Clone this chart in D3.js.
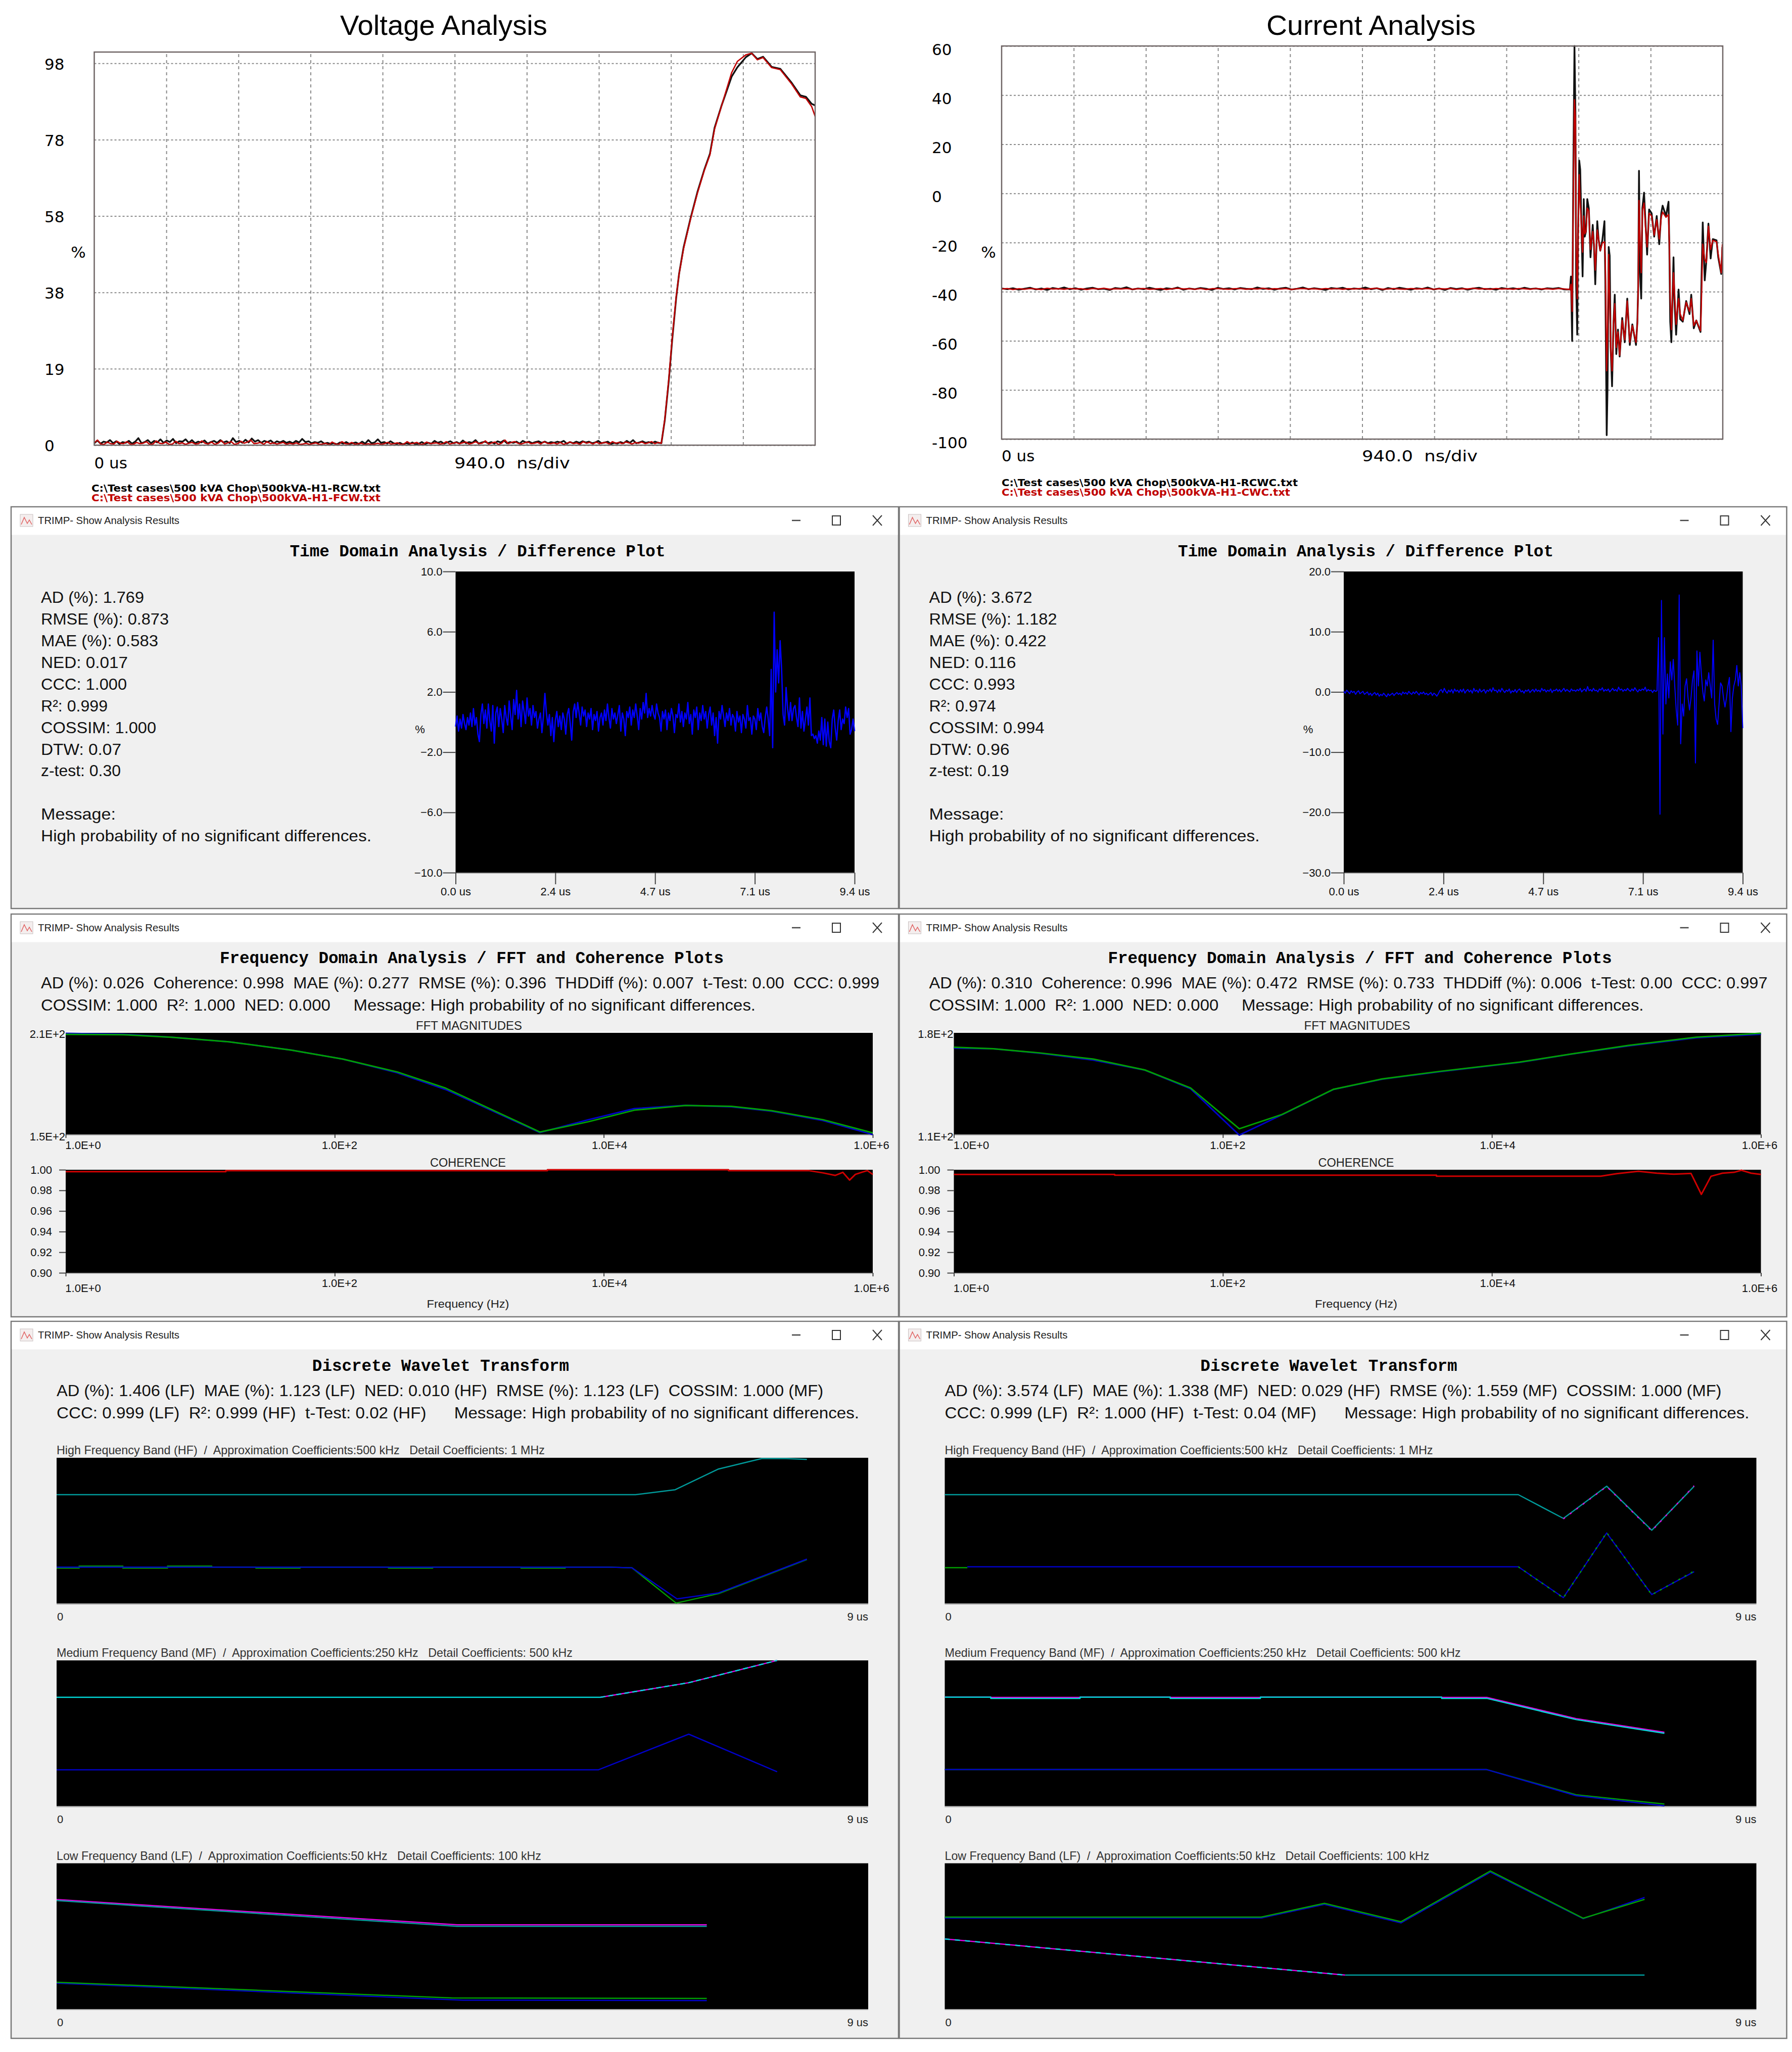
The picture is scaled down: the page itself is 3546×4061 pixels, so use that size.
<!DOCTYPE html>
<html>
<head>
<meta charset="utf-8">
<script src="https://cdn.jsdelivr.net/npm/d3@7"></script>
<style>
  body { margin: 0; background: #fff; }
  svg { display: block; }
  text { white-space: pre; fill: #000; }
</style>
</head>
<body>
<div id="vis"></div>
<script>
// ---- top scope plots (percent vs time in us) ----
let voltageTickValues = [0, 19.6, 39.2, 58.8, 78.4, 98];
let voltageTickLabels = ['0', '19', '38', '58', '78', '98'];
let currentTickValues = [-100, -80, -60, -40, -20, 0, 20, 40, 60];
let gridTimes = [0.94, 1.88, 2.82, 3.76, 4.7, 5.64, 6.58, 7.52, 8.46];

let voltBlackNoise = [0.5,1.2,0.4,0.9,0.7,1.3,0.5,1.0,0.3,0.8,0.6,1.1,0.4,0.9,1.8,0.5,0.8,1.3,0.5,1.1,0.7,1.5,0.6,1.2,0.8,1.6,0.5,1.0,0.9,1.5,0.6,1.3,0.5,0.9,0.7,1.2,0.4,0.8,1.1,0.6,1.3,0.7,1.0,0.5,1.8,0.8,1.1,0.6,1.4,0.7,1.7,0.9,1.3,0.6,1.1,0.8,1.2,0.5,1.0,0.7,1.1,0.6,0.9,0.5,1.1,0.7,1.6,0.8,1.0,0.5,0.8,0.6,1.0,0.4,0.6,0.3,0.5,0.2,0.7,0.4,0.8,0.3,0.5,0.7,0.3,0.9,0.4,1.3,0.5,0.7,1.5,0.6,0.8,0.4,1.0,0.5,0.3,0.6,0.2,0.5,0.3,0.7,0.2,0.4,0.8,0.3,0.6,0.4,1.1,0.6,0.9,0.4,0.7,1.0,0.5,0.8,0.4,1.2,0.5,0.8,0.6,1.3,0.4,0.7,0.9,0.5,0.8,0.4,1.0,0.7,1.2,0.5,0.8,0.6,0.9,0.4,1.1,0.7,0.9,0.5,0.8,1.0,0.6,0.9,0.5,0.8,0.6,0.9,0.7,1.1,0.4,0.8,0.5,0.9,0.6,1.0,0.7,0.9,0.5,0.7,1.1,0.5,0.7,0.9,0.3,0.6,0.4,0.8,0.5,1.1,0.6,1.3,0.5,0.7,1.0,0.6,0.8,0.5,0.9,0.6];
let voltRedNoise = [0.6,1.3,0.3,0.2,0.8,0.4,0.3,1.0,0.5,0.4,0.9,0.3,0.2,0.7,0.4,0.5,0.9,0.2,0.3,1.1,0.5,0.4,0.8,0.2,0.3,1.0,0.4,0.6,0.2,0.5,0.7,0.3,0.4,1.1,0.5,0.3,0.8,0.2,0.5,1.2,0.3,0.6,0.9,0.2,0.4,1.0,0.5,0.8,1.3,0.4,0.5,0.7,0.2,0.9,0.4,0.6,0.3,0.5,0.7,0.2,0.5,0.3,0.6,0.2,0.3,0.5,0.2,0.4,0.6,0.2,0.3,0.5,0.1,0.8,0.3,0.2,0.9,0.4,0.3,0.7,0.2,0.4,0.5,0.1,0.4,0.2,0.3,0.5,0.2,0.4,0.7,0.3,0.4,0.6,0.2,0.3,0.9,0.4,0.5,0.7,0.2,0.3,0.8,0.4,0.5,0.6,0.3,0.4,0.9,0.3,0.5,0.7,0.4,0.6,0.8,0.3,0.5,0.9,0.4,0.5,1.1,0.3,0.6,0.8,0.2,0.5,1.3,0.4,0.7,0.9,0.5,0.3,0.6,0.8,0.4,0.5,0.7,0.3,0.9,0.5,0.4,0.6,0.3,0.7,0.2,0.5,0.8,0.4,0.6,0.2,0.9,0.5,0.7,0.3,0.8,0.4,0.6,0.7,0.3,0.9,0.5,0.7,0.4,0.8,0.6,0.3,0.7,0.5,0.8,0.4,0.6,0.9,0.4,0.7];
let voltTailTimes = [7.395,7.44,7.49,7.536,7.588,7.626,7.685,7.775,7.864,7.953,8.028,8.088,8.177,8.311,8.386,8.498,8.572,8.647,8.721,8.833,8.945,9.094,9.206,9.28,9.355,9.4];
let voltBlackTail = [0.5,6.5,16.2,27.0,37.8,44.0,50.8,58.2,64.9,70.6,74.8,81.4,87.0,94.6,97.0,99.6,100.6,99.1,99.7,97.1,96.6,93.0,89.8,89.4,87.6,87.2];
let voltRedTail = [0.5,6.7,16.6,27.4,38.1,43.9,50.5,58.0,64.6,70.4,74.5,81.1,86.9,95.6,98.5,100.2,100.6,98.9,99.5,96.9,96.4,92.7,89.4,89.0,86.9,84.4];

let currentBlackNoise = [-38.7,-39.0,-38.6,-39.2,-38.8,-38.4,-39.1,-38.7,-39.3,-38.5,-38.9,-38.3,-39.0,-38.6,-39.2,-38.7,-38.4,-39.0,-38.8,-39.3,-38.5,-38.8,-38.2,-39.1,-38.7,-39.0,-38.4,-38.9,-39.3,-38.6,-38.9,-38.3,-39.2,-38.7,-39.0,-38.5,-38.8,-39.3,-38.4,-38.9,-38.6,-39.1,-38.5,-38.8,-39.0,-38.3,-38.9,-38.6,-39.2,-38.7,-38.4,-39.1,-38.8,-38.3,-39.0,-38.6,-38.9,-39.3,-38.5,-38.8,-38.4,-39.1,-38.7,-38.9,-38.3,-39.0,-38.6,-39.3,-38.5,-39.0,-38.4,-38.8,-39.2,-38.6,-38.9,-38.3,-39.1,-38.7,-39.3,-38.5,-38.9,-38.6,-39.2,-38.7,-38.4,-39.0,-38.8,-39.2,-38.5,-38.9,-38.6,-39.0,-38.4,-38.9,-38.7,-39.1,-38.6,-38.8,-38.5,-39.1];
let currentRedNoise = [-38.9,-38.7,-39.1,-38.8,-39.0,-38.7,-38.9,-39.1,-38.6,-38.9,-38.8,-39.0,-38.7,-38.9,-38.8,-39.1,-38.7,-38.9,-38.6,-39.0,-38.8,-38.9,-38.7,-39.0,-38.8,-38.7,-39.0,-38.9,-38.7,-39.1,-38.8,-38.6,-38.9,-38.8,-39.0,-38.7,-39.1,-38.8,-38.7,-38.9,-39.0,-38.8,-38.7,-39.0,-38.8,-38.9,-38.6,-39.0,-38.8,-38.9,-38.7,-39.1,-38.8,-38.7,-38.9,-38.8,-39.0,-38.7,-38.9,-38.7,-39.0,-38.8,-38.9,-38.7,-39.0,-38.8,-38.6,-39.0,-38.9,-38.7,-38.9,-39.0,-38.7,-38.9,-38.8,-38.7,-39.0,-38.8,-38.9,-38.7,-39.1,-38.8,-38.9,-38.6,-38.9,-38.8,-39.0,-38.7,-38.9,-38.8,-39.0,-38.7,-38.8,-39.0,-38.7,-38.9,-38.8,-39.0,-38.7,-38.9];
let currentTailTimes = [7.408,7.421,7.437,7.452,7.467,7.48,7.489,7.503,7.514,7.529,7.542,7.555,7.573,7.588,7.601,7.617,7.634,7.654,7.676,7.705,7.722,7.738,7.764,7.781,7.803,7.83,7.858,7.869,7.887,7.898,7.913,7.926,7.939,7.957,7.975,7.992,8.012,8.034,8.056,8.089,8.122,8.155,8.188,8.221,8.269,8.287,8.298,8.308,8.322,8.337,8.352,8.374,8.392,8.414,8.44,8.473,8.506,8.539,8.572,8.598,8.616,8.66,8.693,8.704,8.715,8.73,8.758,8.769,8.792,8.824,8.846,8.879,8.923,8.967,8.989,9.022,9.055,9.11,9.121,9.139,9.165,9.187,9.213,9.242,9.27,9.319,9.341,9.38,9.395];
let currentBlackTail = [-39.1,-33.8,-60.1,9.2,60,31.8,-37.5,-57.5,-15.5,13.4,9.7,-9.2,-33.8,-2.3,-17.6,-15.5,-2.3,-6,-26,-12.8,-21.8,-37,-11.3,-18.6,-23.3,-19.1,-11.3,-34.9,-98.4,-79.5,-21.8,-25.4,-62.7,-78.5,-53.3,-41.2,-65.4,-55.4,-66.4,-50.7,-60.6,-42.8,-61.7,-53.3,-61.7,-52.2,-37.5,9.2,-32.3,-42.8,-6,0.3,-11.3,-24.9,-6.5,-8.1,-17.6,-9.2,-20.7,-8.1,-5,-9.2,-3.4,-22.8,-52.2,-60.6,-26,-42.8,-57.5,-39.1,-51.2,-52.2,-43.8,-49.1,-41.2,-54.9,-51.7,-56.4,-37.5,-11.8,-35.4,-27,-12.3,-26.5,-18.6,-19.1,-26,-32.8,-21.8];
let currentRedTail = [-39.1,-37,-48,-2.9,38.1,30.8,-21.8,-42.8,-17.6,7.6,-3.9,-11.3,-23.9,-9.2,-16.5,-15.5,-6,-7.1,-22.8,-15.5,-20.7,-31.2,-14.9,-18.6,-23.3,-20.2,-19.7,-27,-72.2,-58.5,-24.9,-42.8,-62.7,-72.2,-53.3,-44.9,-62.7,-56.4,-65.9,-51.7,-59.6,-43.8,-60.6,-53.8,-60.6,-52.8,-38.6,-2.9,-19.7,-32.3,-7.1,-3.9,-13.4,-21.8,-8.1,-9.2,-17,-10.7,-18.6,-9.7,-7.6,-9.7,-8.6,-20.7,-42.8,-55.4,-32.3,-38.6,-53.3,-42.8,-49.1,-51.7,-44.3,-48,-42.8,-53.8,-51.7,-55.9,-44.9,-20.7,-27,-28.1,-13.4,-22.8,-19.1,-19.7,-24.9,-32.3,-20.7];

// ---- time domain difference plots ----
let leftDiffTicks = [-10, -6, -2, 2, 6, 10];
let rightDiffTicks = [-30, -20, -10, 0, 10, 20];
let diffTimeTicks = [0, 2.35, 4.7, 7.05, 9.4];
let diffTimeLabels = ['0.0 us', '2.4 us', '4.7 us', '7.1 us', '9.4 us'];
let leftDiffValues = [-0.3,0.4,-0.6,0.2,-0.4,0.5,-0.1,-0.5,0.3,-0.2,0.6,-0.3,0.9,-0.2,0.3,-0.8,-1.3,0.5,1.2,-0.1,0.8,-0.4,1.2,0.1,-0.6,1.1,-1.4,0.6,1.0,-0.3,0.9,0.2,-0.7,1.1,0.3,-0.2,1.4,0.4,-0.5,1.5,0.5,2.1,0.2,1.2,-0.3,1.4,0.7,-0.1,1.6,0.4,0.9,-0.2,1.1,0.3,0.7,-0.4,0.2,0.6,-0.7,0.4,1.9,0.6,-0.2,0.5,-0.9,0.3,-1.3,0.1,0.7,-0.3,0.4,-0.5,0.6,0.2,-0.8,0.5,0.9,-0.1,-1.2,0.7,1.2,0.3,1.3,0.6,-0.2,1.0,0.4,0.8,-0.3,0.6,0.2,0.9,-0.5,0.5,0.1,0.7,-0.6,0.3,0.6,-0.2,0.8,0.1,1.2,0.3,-0.4,0.9,0.2,0.6,-0.1,0.5,1.1,-0.6,0.6,0.2,-0.9,0.7,0.3,1.0,-0.2,0.8,0.3,1.2,0.4,-0.5,0.9,0.2,1.3,0.6,1.9,0.3,0.9,0.4,1.1,0.5,0.2,1.2,0.6,0.3,-0.6,0.7,0.2,0.8,-0.5,0.6,0.1,0.9,0.4,-0.7,0.5,0.3,1.2,0.0,0.7,-0.3,0.6,0.2,1.3,-0.1,0.5,-0.8,0.8,0.3,1.0,-0.5,0.6,0.1,1.1,0.2,0.7,-0.4,0.5,1.0,-0.2,0.6,-0.9,0.3,-1.4,0.7,0.2,1.1,0.4,-0.3,0.6,0.1,0.9,-0.2,0.5,0.3,-0.6,0.7,0.0,0.4,-0.7,0.5,0.2,-0.4,1.1,0.1,0.3,-0.8,0.4,0.2,-0.5,0.9,0.1,0.6,-0.3,-0.7,0.3,1.0,0.2,-0.9,3.5,-1.7,7.3,2.0,4.8,2.6,5.4,3.5,0.5,-0.2,2.3,0.9,0.1,1.3,0.1,0.9,1.1,0.3,-0.3,1.6,-0.4,0.7,-0.6,0.2,1.0,-0.2,1.6,-0.9,-0.8,-1.1,-0.9,-1.4,-0.6,-1.2,0.3,-1.5,0.2,-1.6,0.0,-1.3,-1.7,0.2,0.8,-0.4,-1.2,0.1,0.8,-0.5,0.2,-0.1,1.0,0.3,0.9,-0.8,-0.5,0.2,-0.6];
let rightDiffValues = [0.1,-0.2,0.3,0.0,-0.3,0.2,-0.1,0.1,-0.4,0.0,0.2,-0.3,-0.1,0.1,-0.4,-0.2,0.0,-0.5,-0.2,-0.6,-0.3,-0.1,-0.5,-0.2,-0.7,-0.4,-0.6,-0.2,-0.5,-0.8,-0.3,-0.6,-0.4,-0.2,-0.6,-0.3,-0.1,-0.4,-0.2,-0.5,0.0,-0.3,-0.1,-0.4,0.1,-0.2,-0.4,0.0,-0.3,0.1,-0.2,-0.5,-0.1,-0.3,0.0,-0.4,-0.2,-0.5,-0.3,-0.1,-0.6,-0.2,-0.4,-0.7,-0.3,0.2,0.4,-0.1,0.6,0.1,-0.2,0.3,0.0,0.4,-0.2,0.5,0.1,0.3,-0.1,0.4,0.0,0.5,-0.2,0.2,0.4,0.0,0.3,-0.2,0.6,0.1,0.3,-0.1,0.5,0.0,0.2,0.4,-0.2,0.3,0.1,0.5,0.0,0.7,0.2,0.3,-0.1,0.4,0.0,0.6,0.2,-0.1,0.3,0.1,0.5,-0.2,0.2,0.0,0.4,-0.1,0.3,0.5,0.0,0.2,-0.2,0.3,0.1,0.4,-0.1,0.2,0.4,0.0,0.5,0.1,0.3,0.0,0.6,0.2,0.4,0.0,0.3,0.1,0.5,-0.1,0.3,0.2,0.5,0.1,0.4,0.0,0.3,0.6,0.1,0.4,0.2,0.0,0.5,0.2,0.3,0.1,0.4,0.2,0.6,0.0,0.3,0.5,0.1,0.9,0.2,0.4,0.1,0.6,0.2,0.3,0.0,0.5,0.3,0.7,0.1,0.4,0.2,0.5,0.0,0.3,0.6,0.2,0.4,0.1,0.8,0.3,0.5,0.1,0.4,0.2,0.6,0.3,0.1,0.5,0.2,0.7,0.3,0.0,0.4,0.2,0.5,0.3,0.8,0.1,0.4,0.2,0.3,-0.1,0.3,0.1,0.2,9.0,-20.3,15.2,-7.0,9.0,-2.0,3.0,-1.0,5.0,2.0,5.4,1.0,-3.0,-5.5,16.1,-8.6,-2.0,-4.0,1.0,2.2,-1.0,-3.0,-1.0,2.0,3.5,-11.8,6.8,1.0,6.6,3.0,0.0,-1.5,2.0,1.0,3.2,1.0,-1.0,8.6,-2.0,-4.5,-5.4,-2.0,1.5,1.0,-1.0,-2.5,-1.0,1.0,2.4,-6.6,-1.0,1.0,2.0,4.4,1.0,3.2,1.0,-6.0];

// ---- FFT and coherence plots ----
let fftFreqTicks = [1, 100, 10000, 1000000];
let fftFreqLabels = ['1.0E+0', '1.0E+2', '1.0E+4', '1.0E+6'];
let cohTicks = [0.9, 0.92, 0.94, 0.96, 0.98, 1];
let leftFftFreq = [1,2.66,6.1,16.3,47.6,115,291,668,3357,7709,16870,40640,88920,176200,425600,1000000];
let leftFftGreen = [209.1,208.9,207.4,204.7,199.8,194.5,186.9,177.3,151.4,157.5,164.3,167.1,166.6,164.0,158.7,150.9];
let leftFftBlue = [209.7,209.2,207.4,204.7,199.8,194.5,186.4,176.5,151.1,158.7,165.2,167.2,166.3,163.7,158.2,149.9];
let rightFftFreq = [1,1.96,4.3,10.9,26.3,57.5,132.4,275,665,1528,4074,16030,38640,103000,333400,1000000];
let rightFftGreen = [170.1,169,166.2,161.9,154.4,142,113.9,123.7,141.1,148.2,153.4,159.8,165.4,171.3,177,179.7];
let rightFftBlue = [169.5,169,166,161.2,154.3,141.5,109.5,123.5,141,148,153.2,159.6,165.3,170.9,176.6,179];
let leftCohFreq = [1,15.5,15.5,3811,3811,84700,84700,332900,425600,527000,599000,673000,743000,826000,912000,1000000];
let leftCohValues = [0.9982,0.9982,0.9992,0.9992,1,1,0.9992,0.9992,0.997,0.9945,0.9975,0.99,0.9955,0.9975,0.9992,0.9955];
let rightCohFreq = [1,15.7,15.7,3873,3873,64400,84700,122800,167900,225400,302000,360600,425600,517600,630900,716000,845000,1000000];
let rightCohValues = [0.9955,0.9955,0.9947,0.9947,0.9937,0.9937,0.9962,0.9985,0.9967,0.9957,0.9965,0.9761,0.9937,0.9967,0.9975,0.9995,0.9967,0.9955];

// ---- wavelet band plots, [time us, relative level] ----
let leftHfTeal = [[0,74.7],[6.42,74.7],[6.86,78.1],[7.34,92.3],[7.82,99.5],[8.09,99.5],[8.32,98.9]];
let leftHfGreen = [[0,24.35],[0.25,24.35],[0.25,25.65],[0.735,25.65],[0.735,24.35],[1.23,24.35],[1.23,25.65],[1.72,25.65],[1.72,25],[2.21,25],[2.21,24.35],[2.7,24.35],[2.7,25],[3.68,25],[3.68,24.35],[4.17,24.35],[4.17,25],[5.15,25],[5.15,24.35],[5.64,24.35],[5.64,25],[6.12,25],[6.38,24.5],[6.87,0.3],[7.34,6.8],[8.32,30.2]];
let leftHfBlue = [[0,25],[6.12,25],[6.38,24.5],[6.88,3.2],[7.34,7.3],[8.32,30.5]];
let leftMfFlat = [[0,74.7],[6.03,74.7]];
let leftMfSlope = [[6.03,74.7],[7.01,84.7],[7.99,100]];
let leftMfBlue = [[0,25],[6.01,25],[7.01,49.4],[7.99,23.6]];
let leftLfMagenta = [[0,75.1],[4.44,57.8],[7.21,57.8]];
let leftLfCyan = [[0,74.4],[4.44,56.8],[7.21,56.8]];
let leftLfGreen = [[0,18.4],[4.38,7.6],[7.21,7.3]];
let leftLfBlue = [[0,17.8],[4.51,6.1],[7.21,5.8]];

let rightHfTeal = [[0,74.7],[6.36,74.7],[6.86,58.4],[7.34,80.5],[7.84,50.3],[8.31,80.5]];
let rightHfMagenta = [[6.86,58.1],[7.34,80.3],[7.84,49.9],[8.31,80.8]];
let rightHfGreenStart = [[0,24.6],[0.25,24.6]];
let rightHfBlue = [[0.25,25.2],[6.36,25.2],[6.86,4.1],[7.34,48.4],[7.84,6.2],[8.31,21.9]];
let rightHfGreenTail = [[6.36,25.2],[6.86,3.9],[7.34,48.7],[7.84,6],[8.31,22.3]];
let rightMfMagenta = [[0,74.76],[0.51,74.76],[0.51,74.6],[1.5,74.6],[1.5,74.76],[2.5,74.76],[2.5,74.6],[3.5,74.6],[3.5,74.76],[5.51,74.76],[5.51,74.6],[6.01,74.6],[7,60.1],[7.98,50.7]];
let rightMfCyan = [[0,74.76],[0.51,74.76],[0.51,73.95],[1.5,73.95],[1.5,74.76],[2.5,74.76],[2.5,73.95],[3.5,73.95],[3.5,74.76],[5.51,74.76],[5.51,73.95],[6.01,73.95],[7,59.4],[7.98,50]];
let rightMfGreen = [[0,25.1],[6.01,25.1],[7,7.8],[7.98,1.5]];
let rightMfBlue = [[0,25.1],[6.01,25.1],[7,7.2],[7.98,0.3]];
let rightLfGreen = [[0,63.1],[3.51,63.1],[4.21,72.5],[5.06,59.9],[6.05,94.7],[7.08,62.3],[7.76,75.2]];
let rightLfBlue = [[0,62.5],[3.51,62.5],[4.21,71.8],[5.06,59.1],[6.05,93.9],[7.08,62],[7.76,76.5]];
let rightLfSlope = [[0,48.1],[4.44,23.3]];
let rightLfFlat = [[4.44,23.3],[7.76,23.3]];

// ---- texts ----
let leftTimeMetrics = ['AD (%): 1.769','RMSE (%): 0.873','MAE (%): 0.583','NED: 0.017','CCC: 1.000','R²: 0.999','COSSIM: 1.000','DTW: 0.07','z-test: 0.30','','Message:','High probability of no significant differences.'];
let rightTimeMetrics = ['AD (%): 3.672','RMSE (%): 1.182','MAE (%): 0.422','NED: 0.116','CCC: 0.993','R²: 0.974','COSSIM: 0.994','DTW: 0.96','z-test: 0.19','','Message:','High probability of no significant differences.'];
let leftFreqMetrics = ['AD (%): 0.026  Coherence: 0.998  MAE (%): 0.277  RMSE (%): 0.396  THDDiff (%): 0.007  t-Test: 0.00  CCC: 0.999','COSSIM: 1.000  R²: 1.000  NED: 0.000     Message: High probability of no significant differences.'];
let rightFreqMetrics = ['AD (%): 0.310  Coherence: 0.996  MAE (%): 0.472  RMSE (%): 0.733  THDDiff (%): 0.006  t-Test: 0.00  CCC: 0.997','COSSIM: 1.000  R²: 1.000  NED: 0.000     Message: High probability of no significant differences.'];
let leftWaveMetrics = ['AD (%): 1.406 (LF)  MAE (%): 1.123 (LF)  NED: 0.010 (HF)  RMSE (%): 1.123 (LF)  COSSIM: 1.000 (MF)','CCC: 0.999 (LF)  R²: 0.999 (HF)  t-Test: 0.02 (HF)      Message: High probability of no significant differences.'];
let rightWaveMetrics = ['AD (%): 3.574 (LF)  MAE (%): 1.338 (MF)  NED: 0.029 (HF)  RMSE (%): 1.559 (MF)  COSSIM: 1.000 (MF)','CCC: 0.999 (LF)  R²: 1.000 (HF)  t-Test: 0.04 (MF)      Message: High probability of no significant differences.'];
let bandTitles = [
  'High Frequency Band (HF)  /  Approximation Coefficients:500 kHz   Detail Coefficients: 1 MHz',
  'Medium Frequency Band (MF)  /  Approximation Coefficients:250 kHz   Detail Coefficients: 500 kHz',
  'Low Frequency Band (LF)  /  Approximation Coefficients:50 kHz   Detail Coefficients: 100 kHz'
];

const SANS = '"Liberation Sans", Arial, sans-serif';
const SCOPE = '"DejaVu Sans", Tahoma, sans-serif';
const MONO = '"Liberation Mono", "Courier New", monospace';
const BLUE = '#0000c8';
const GREEN = '#00a000';
const TEAL = '#009a9a';
const CYAN = '#00d8d8';
const MAGENTA = '#e000e0';

// widths of the stacked metric lines as they sit in the window
const METRIC_WIDTHS = [204, 253, 232, 172, 170, 132, 228, 159, 158, 0, 148, 654];

let svg = d3.select('#vis').append('svg')
  .attr('width', 3546)
  .attr('height', 4061);

function addText(parent, x, y, str, size, opts) {
  opts = opts || {};
  let t = parent.append('text')
    .attr('x', x)
    .attr('y', y)
    .attr('dy', '0.35em')
    .attr('font-family', opts.font || SANS)
    .attr('font-size', size)
    .attr('text-anchor', opts.anchor || 'start')
    .text(str);
  if (opts.weight) t.attr('font-weight', opts.weight);
  if (opts.color) t.style('fill', opts.color);
  if (opts.width) t.attr('textLength', opts.width).attr('lengthAdjust', 'spacingAndGlyphs');
  return t;
}

function addLine(parent, pts, x, y, color, width, dash) {
  let line = d3.line().x(d => x(d[0])).y(d => y(d[1]));
  let p = parent.append('path')
    .attr('d', line(pts))
    .attr('fill', 'none')
    .attr('stroke', color)
    .attr('stroke-width', width)
    .attr('stroke-linejoin', 'round');
  if (dash) p.attr('stroke-dasharray', dash);
}

// noise section is evenly sampled up to the first tail time
function scopeSeries(noise, tailTimes, tail) {
  let step = d3.scaleLinear().domain([0, noise.length]).range([0, tailTimes[0]]);
  return noise.map((v, i) => [step(i), v]).concat(tailTimes.map((t, i) => [t, tail[i]]));
}

function styleGrid(axisG, dash) {
  axisG.select('.domain').remove();
  axisG.selectAll('line')
    .attr('stroke', '#8a8a8a')
    .attr('stroke-width', 2)
    .attr('stroke-dasharray', dash);
}

function drawScope(cfg) {
  let g = svg.append('g');
  let width = cfg.x1 - cfg.x0;
  let height = cfg.y1 - cfg.y0;
  let x = d3.scaleLinear().domain([0, 9.4]).range([cfg.x0, cfg.x1]);
  let y = d3.scaleLinear().domain(cfg.domain).range([cfg.y1, cfg.y0]);

  addText(g, cfg.titleX, 50, cfg.title, 55, { anchor: 'middle', width: cfg.titleWidth });

  let xGrid = g.append('g')
    .attr('transform', 'translate(0,' + cfg.y1 + ')')
    .call(d3.axisBottom(x).tickValues(gridTimes).tickSize(-height).tickFormat(''));
  styleGrid(xGrid, '6 6');

  let yAxis = g.append('g')
    .attr('transform', 'translate(' + cfg.x0 + ',0)')
    .call(d3.axisLeft(y).tickValues(cfg.ticks).tickSize(-width).tickFormat((d, i) => cfg.labels ? cfg.labels[i] : d));
  styleGrid(yAxis, '4 4');
  yAxis.selectAll('text')
    .attr('text-anchor', 'start')
    .attr('x', cfg.labelX - cfg.x0)
    .attr('dy', cfg.labelDy)
    .attr('font-family', SCOPE)
    .attr('font-size', 31)
    .style('fill', '#000');

  addLine(g, cfg.black, x, y, '#111', 3.4);
  addLine(g, cfg.red, x, y, '#c00000', 2.6);

  g.append('rect')
    .attr('x', cfg.x0).attr('y', cfg.y0)
    .attr('width', width).attr('height', height)
    .attr('fill', 'none')
    .attr('stroke', '#6e6464')
    .attr('stroke-width', 2.5);

  addText(g, cfg.percentX, 499, '%', 31, { font: SCOPE, anchor: 'middle' });
  addText(g, cfg.x0, cfg.footY, '0 us', 31, { font: SCOPE });
  addText(g, cfg.divX, cfg.footY, '940.0  ns/div', 31, { font: SCOPE, width: 229 });
  addText(g, cfg.x0 - cfg.fileDx, cfg.fileY, cfg.file1, 20, { font: SCOPE, weight: 'bold', width: cfg.file1Width });
  addText(g, cfg.x0 - cfg.fileDx, cfg.fileY + 18.5, cfg.file2, 20, { font: SCOPE, weight: 'bold', color: '#c00000', width: cfg.file2Width });
}

function drawWindow(g, y0, y1) {
  g.append('rect')
    .attr('x', 22).attr('y', y0)
    .attr('width', 1756).attr('height', y1 - y0)
    .attr('fill', '#f0f0f0')
    .attr('stroke', '#787878')
    .attr('stroke-width', 2.5);
  g.append('rect')
    .attr('x', 23.5).attr('y', y0 + 1.5)
    .attr('width', 1753).attr('height', 54)
    .attr('fill', '#fff');
  let cy = y0 + 27;
  // app icon
  g.append('rect').attr('x', 40).attr('y', cy - 12).attr('width', 25).attr('height', 24)
    .attr('fill', '#f4eeee').attr('stroke', '#c8c0c0');
  g.append('path').attr('d', 'M42,' + (cy + 8) + 'l6,-14l6,12l4,-7l5,9')
    .attr('fill', 'none').attr('stroke', '#e06060').attr('stroke-width', 1.5);
  addText(g, 75, cy, 'TRIMP- Show Analysis Results', 21, { width: 280, color: '#222' });
  // window controls
  g.append('line').attr('x1', 1567).attr('x2', 1584).attr('y1', cy).attr('y2', cy)
    .attr('stroke', '#444').attr('stroke-width', 2.5);
  g.append('rect').attr('x', 1647).attr('y', cy - 9).attr('width', 16).attr('height', 18)
    .attr('fill', 'none').attr('stroke', '#333').attr('stroke-width', 2);
  g.append('path').attr('d', 'M1727,' + (cy - 10) + 'L1745,' + (cy + 10) + 'M1745,' + (cy - 10) + 'L1727,' + (cy + 10))
    .attr('stroke', '#333').attr('stroke-width', 2);
}

function blackPlot(g, x0, y0, x1, y1) {
  g.append('rect')
    .attr('x', x0).attr('y', y0)
    .attr('width', x1 - x0).attr('height', y1 - y0)
    .attr('fill', '#000');
  g.append('line').attr('x1', x0).attr('x2', x1).attr('y1', y1 + 1).attr('y2', y1 + 1)
    .attr('stroke', '#a8a8a8').attr('stroke-width', 2);
}

function styleAxis(axisG, size) {
  axisG.select('.domain').remove();
  axisG.selectAll('line').attr('stroke', '#444').attr('stroke-width', 2);
  axisG.selectAll('text')
    .attr('font-family', SANS)
    .attr('font-size', size)
    .style('fill', '#111');
}

function drawTimeWindow(dx, metrics, values, yDomain, yTicks, lineWidth) {
  let g = svg.append('g').attr('transform', 'translate(' + dx + ',0)');
  drawWindow(g, 1003, 1798);
  addText(g, 945, 1090, 'Time Domain Analysis / Difference Plot', 32.6, { font: MONO, weight: 'bold', anchor: 'middle' });
  metrics.forEach((m, i) => {
    if (m) addText(g, 81, 1182 + i * 42.9, m, 32, { color: '#111', width: METRIC_WIDTHS[i] });
  });

  let x0 = 901.5, x1 = 1691, y0 = 1131, y1 = 1727;
  blackPlot(g, x0, y0, x1, y1);
  let x = d3.scaleLinear().domain([0, 9.4]).range([x0, x1]);
  let y = d3.scaleLinear().domain(yDomain).range([y1, y0]);
  let idx = d3.scaleLinear().domain([0, values.length - 1]).range([0, 9.4]);

  let yAxis = g.append('g').attr('transform', 'translate(' + x0 + ',0)')
    .call(d3.axisLeft(y).tickValues(yTicks).tickSize(25).tickPadding(1).tickFormat(d3.format('.1f')));
  styleAxis(yAxis, 22);
  let xAxis = g.append('g').attr('transform', 'translate(0,' + y1 + ')')
    .call(d3.axisBottom(x).tickValues(diffTimeTicks).tickSize(23).tickPadding(6).tickFormat((d, i) => diffTimeLabels[i]));
  styleAxis(xAxis, 22);

  addText(g, 831, 1443, '%', 22, { anchor: 'middle', color: '#111' });
  addLine(g, values.map((v, i) => [idx(i), v]), x, y, '#0000ff', lineWidth);
}

function drawFreqWindow(dx, metrics, fftDomain, fftLabels, freq, green, blue, cohFreq, coh) {
  let g = svg.append('g').attr('transform', 'translate(' + dx + ',0)');
  drawWindow(g, 1809, 2606);
  addText(g, 933.5, 1895, 'Frequency Domain Analysis / FFT and Coherence Plots', 32.6, { font: MONO, weight: 'bold', anchor: 'middle' });
  addText(g, 81, 1945, metrics[0], 32, { width: 1659, color: '#111' });
  addText(g, 81, 1989, metrics[1], 32, { width: 1414, color: '#111' });

  let x0 = 130, x1 = 1727;
  let labelShift = [34, 9, 11, -3];

  // FFT magnitudes
  let fy0 = 2044, fy1 = 2245;
  addText(g, 928, 2030, 'FFT MAGNITUDES', 23, { anchor: 'middle', width: 210, color: '#222' });
  blackPlot(g, x0, fy0, x1, fy1);
  g.append('line').attr('x1', x0).attr('x2', x1).attr('y1', fy0 - 1).attr('y2', fy0 - 1).attr('stroke', '#fff').attr('stroke-width', 2);
  let xf = d3.scaleLog().domain([1, 1000000]).range([x0, x1]);
  let yf = d3.scaleLinear().domain(fftDomain).range([fy1, fy0]);
  let fftAxis = g.append('g').attr('transform', 'translate(0,' + fy1 + ')')
    .call(d3.axisBottom(xf).tickValues(fftFreqTicks).tickSize(7).tickPadding(6).tickFormat((d, i) => fftFreqLabels[i]));
  styleAxis(fftAxis, 22);
  fftAxis.selectAll('text').attr('x', (d, i) => labelShift[i]);
  let fftY = g.append('g').attr('transform', 'translate(' + x0 + ',0)')
    .call(d3.axisLeft(yf).tickValues(fftDomain).tickSize(0).tickPadding(1).tickFormat((d, i) => fftLabels[i]));
  styleAxis(fftY, 22);
  fftY.selectAll('text').attr('dy', (d, i) => i === 0 ? '0.5em' : '0.42em');
  addLine(g, freq.map((f, i) => [f, blue[i]]), xf, yf, BLUE, 3);
  addLine(g, freq.map((f, i) => [f, green[i]]), xf, yf, GREEN, 3);

  // coherence
  let cy0 = 2315, cy1 = 2519;
  addText(g, 926, 2301, 'COHERENCE', 23, { anchor: 'middle', width: 150, color: '#222' });
  blackPlot(g, x0, cy0, x1, cy1);
  let yc = d3.scaleLinear().domain([0.9, 1]).range([cy1, cy0]);
  let cohAxis = g.append('g').attr('transform', 'translate(0,' + cy1 + ')')
    .call(d3.axisBottom(xf).tickValues(fftFreqTicks).tickSize(7).tickPadding(5).tickFormat((d, i) => fftFreqLabels[i]));
  styleAxis(cohAxis, 22);
  cohAxis.selectAll('text')
    .attr('x', (d, i) => labelShift[i])
    .attr('dy', (d, i) => (i === 0 || i === 3) ? '1.2em' : '0.71em');
  let cohY = g.append('g').attr('transform', 'translate(' + x0 + ',0)')
    .call(d3.axisLeft(yc).tickValues(cohTicks).tickSize(13).tickPadding(14).tickFormat(d3.format('.2f')));
  styleAxis(cohY, 22);
  addLine(g, cohFreq.map((f, i) => [f, coh[i]]), xf, yc, '#d00000', 3);
  addText(g, 926, 2580, 'Frequency (Hz)', 22, { anchor: 'middle', width: 163, color: '#222' });
}

function drawWaveWindow(dx, metrics, lineWidths, bands) {
  let g = svg.append('g').attr('transform', 'translate(' + dx + ',0)');
  drawWindow(g, 2615, 4034);
  addText(g, 872, 2701.5, 'Discrete Wavelet Transform', 32.6, { font: MONO, weight: 'bold', anchor: 'middle' });
  addText(g, 112, 2752, metrics[0], 32, { width: lineWidths[0], color: '#111' });
  addText(g, 112, 2795.5, metrics[1], 32, { width: lineWidths[1], color: '#111' });

  let x0 = 112, x1 = 1718;
  let x = d3.scaleLinear().domain([0, 9]).range([x0, x1]);
  let tops = [2885, 3286, 3687.5];
  let widths = [966, 1021, 959];
  tops.forEach((top, b) => {
    let y1 = top + 288.5;
    addText(g, x0, top - 15, bandTitles[b], 24, { width: widths[b], color: '#333' });
    blackPlot(g, x0, top, x1, y1);
    let y = d3.scaleLinear().domain([0, 100]).range([y1, top]);
    bands[b].forEach(s => addLine(g, s[0], x, y, s[1], 2.5, s[2]));
    addText(g, x0 + 1, y1 + 26, '0', 22, { color: '#222' });
    addText(g, x1, y1 + 26, '9 us', 22, { anchor: 'end', color: '#222' });
  });
}

// scope plots
drawScope({
  x0: 186.5, x1: 1613, y0: 103, y1: 881, domain: [0, 100.9],
  ticks: voltageTickValues, labels: voltageTickLabels, labelX: 88, labelDy: '0.38em',
  title: 'Voltage Analysis', titleX: 878, titleWidth: 410,
  black: scopeSeries(voltBlackNoise, voltTailTimes, voltBlackTail),
  red: scopeSeries(voltRedNoise, voltTailTimes, voltRedTail),
  percentX: 155, footY: 916, divX: 899,
  file1: 'C:\\Test cases\\500 kVA Chop\\500kVA-H1-RCW.txt', file2: 'C:\\Test cases\\500 kVA Chop\\500kVA-H1-FCW.txt',
  file1Width: 572, file2Width: 572, fileDx: 5.5, fileY: 966
});
drawScope({
  x0: 1982, x1: 3409, y0: 91, y1: 869, domain: [-100, 60],
  ticks: currentTickValues, labelX: 1844, labelDy: '0.55em',
  title: 'Current Analysis', titleX: 2713, titleWidth: 414,
  black: scopeSeries(currentBlackNoise, currentTailTimes, currentBlackTail),
  red: scopeSeries(currentRedNoise, currentTailTimes, currentRedTail),
  percentX: 1956, footY: 902, divX: 2695,
  file1: 'C:\\Test cases\\500 kVA Chop\\500kVA-H1-RCWC.txt', file2: 'C:\\Test cases\\500 kVA Chop\\500kVA-H1-CWC.txt',
  file1Width: 586, file2Width: 571, fileDx: 0, fileY: 955
});

// analysis windows, right column is the left one shifted over
let rightDx = 1757.5;
drawTimeWindow(0, leftTimeMetrics, leftDiffValues, [-10, 10], leftDiffTicks, 2.6);
drawTimeWindow(rightDx, rightTimeMetrics, rightDiffValues, [-30, 20], rightDiffTicks, 2);
drawFreqWindow(0, leftFreqMetrics, [150, 210], ['1.5E+2', '2.1E+2'], leftFftFreq, leftFftGreen, leftFftBlue, leftCohFreq, leftCohValues);
drawFreqWindow(rightDx, rightFreqMetrics, [110, 180], ['1.1E+2', '1.8E+2'], rightFftFreq, rightFftGreen, rightFftBlue, rightCohFreq, rightCohValues);

drawWaveWindow(0, leftWaveMetrics, [1517, 1588], [
  [[leftHfTeal, TEAL], [leftHfGreen, GREEN], [leftHfBlue, BLUE]],
  [[leftMfFlat, CYAN], [leftMfSlope, MAGENTA], [leftMfSlope, CYAN, '10 6'], [leftMfBlue, BLUE]],
  [[leftLfMagenta, MAGENTA], [leftLfCyan, TEAL], [leftLfBlue, BLUE], [leftLfGreen, GREEN]]
]);
drawWaveWindow(rightDx, rightWaveMetrics, [1537, 1592], [
  [[rightHfTeal, TEAL], [rightHfMagenta, MAGENTA, '4 12'], [rightHfGreenStart, GREEN], [rightHfBlue, BLUE], [rightHfGreenTail, GREEN, '4 10']],
  [[rightMfMagenta, MAGENTA], [rightMfCyan, CYAN], [rightMfGreen, GREEN], [rightMfBlue, BLUE]],
  [[rightLfBlue, BLUE], [rightLfGreen, GREEN], [rightLfSlope, MAGENTA], [rightLfSlope, CYAN, '10 10'], [rightLfFlat, TEAL]]
]);
</script>
</body>
</html>
